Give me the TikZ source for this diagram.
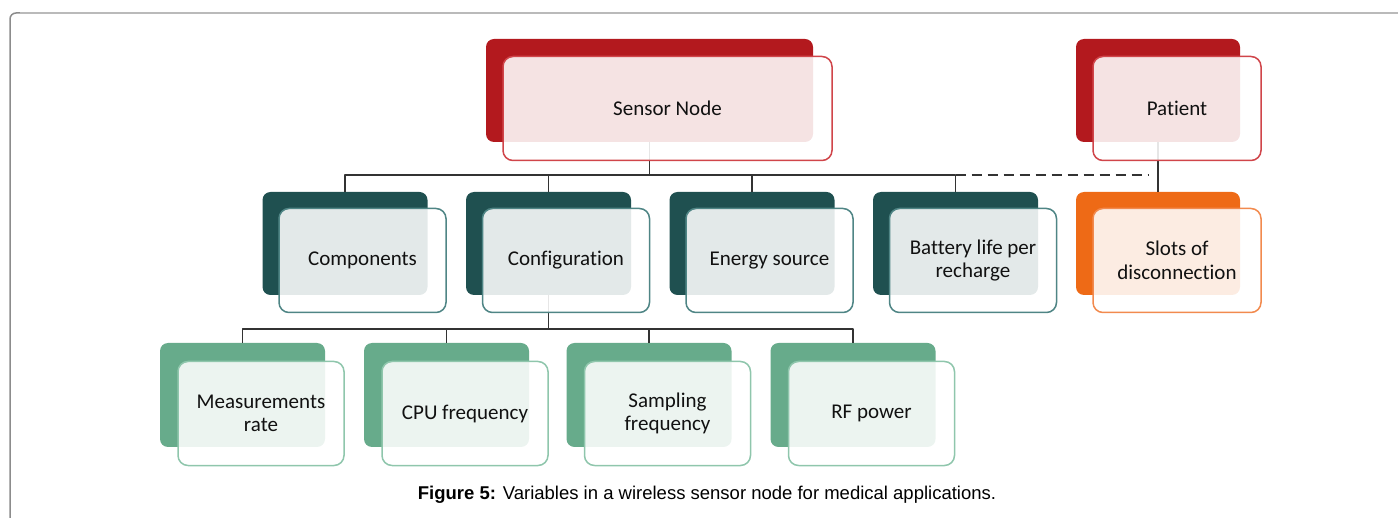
\documentclass[tikz,border=0pt]{standalone}
\usepackage{fontspec}
\setmainfont{Carlito}[Ligatures={NoCommon}]
\newfontfamily\capfont{Liberation Sans}
\usetikzlibrary{calc}

\definecolor{snred}{HTML}{B3191E}
\definecolor{snredline}{HTML}{D0454A}
\definecolor{darkteal}{HTML}{1F5050}
\definecolor{darktealline}{HTML}{4F8585}
\definecolor{slotorange}{HTML}{EE6A16}
\definecolor{slotorangeline}{HTML}{F28A4E}
\definecolor{midgreen}{HTML}{67AB8B}
\definecolor{midgreenline}{HTML}{8FC6AC}
\definecolor{linegray}{HTML}{333333}
\definecolor{textblack}{HTML}{111111}

\begin{document}
\begin{tikzpicture}[x=1pt, y=-1pt, line join=round,
  back/.style={rectangle, rounded corners=8, inner sep=0, outer sep=0,
    minimum width=165, minimum height=103},
  front/.style={rectangle, rounded corners=10, inner sep=0, outer sep=0,
    minimum width=167, minimum height=104, line width=1.5,
    fill=white, fill opacity=0.88, text opacity=1, text=textblack,
    align=center, font=\fontsize{21}{23.5}\selectfont},
  conn/.style={draw=linegray, line width=1.5},
  dashconn/.style={draw=linegray, line width=2.6, dash pattern=on 10 off 6}]
  \useasboundingbox (0,0) rectangle (1398,518);
  \clip (0,0) rectangle (1398,518);

  % Frame
  \draw[line width=1.5, color=black!45, rounded corners=6] (10,540) -- (10,13) -- (1420,13);
  \draw[line width=1.5, color=black!27] (20,13) -- (1420,13);

  % Back boxes
  \node[back, fill=snred, minimum width=327] (SNB) at (649.5,90.5) {};
  \node[back, fill=snred, minimum width=164] (PB) at (1158,90.5) {};

  \node[back, fill=darkteal] (CMB) at (345,243.5) {};
  \node[back, fill=darkteal] (CFB) at (548.5,243.5) {};
  \node[back, fill=darkteal] (ESB) at (752,243.5) {};
  \node[back, fill=darkteal] (BLB) at (955.5,243.5) {};
  \node[back, fill=slotorange, minimum width=164] (SDB) at (1158,243.5) {};

  \node[back, fill=midgreen, minimum height=104] (MRB) at (242.5,395) {};
  \node[back, fill=midgreen, minimum height=104] (CPB) at (446.5,395) {};
  \node[back, fill=midgreen, minimum height=104] (SFB) at (649,395) {};
  \node[back, fill=midgreen, minimum height=104] (RFB) at (853,395) {};

  % Connectors
  \coordinate (BUS1) at (649.5,175);
  \coordinate (BUS2) at (548.5,329);
  \coordinate (DASHEND) at (1148,175);

  \draw[conn] (SNB.south) -- (BUS1);
  \draw[conn] (CMB.north) |- (BUS1) -| (BLB.north);
  \draw[conn] (CFB.north) -- (CFB.north |- BUS1);
  \draw[conn] (ESB.north) -- (ESB.north |- BUS1);
  \draw[dashconn] (BLB.north |- BUS1) -- (DASHEND);
  \draw[conn] (PB.south) -- (SDB.north);

  \draw[conn] (CFB.south) -- (BUS2);
  \draw[conn] (MRB.north) |- (BUS2) -| (RFB.north);
  \draw[conn] (CPB.north) -- (CPB.north |- BUS2);
  \draw[conn] (SFB.north) -- (SFB.north |- BUS2);

  % Front boxes
  \node[front, draw=snredline, minimum width=329] (SNF) at (667.5,108.5) {Sensor Node};
  \node[front, draw=snredline, minimum width=168] (PF) at (1177,108.5) {Patient};

  \node[front, draw=darktealline] (CMF) at (362.5,260.5) {Components};
  \node[front, draw=darktealline] (CFF) at (566,260.5) {Configuration};
  \node[front, draw=darktealline] (ESF) at (769.5,260.5) {Energy source};
  \node[front, draw=darktealline] (BLF) at (973,260.5) {Battery life per\\recharge};
  \node[front, draw=slotorangeline, minimum width=168] (SDF) at (1177,260.5) {Slots of\\disconnection};

  \node[front, draw=midgreenline, minimum width=166] (MRF) at (261,413.5) {Measurements\\rate};
  \node[front, draw=midgreenline, minimum width=166] (CPF) at (465,413.5) {CPU frequency};
  \node[front, draw=midgreenline, minimum width=166] (SFF) at (667.5,413.5) {Sampling\\frequency};
  \node[front, draw=midgreenline, minimum width=166] (RFF) at (871.5,413.5) {RF power};

  % Caption
  \node[font=\capfont\fontsize{18.5}{21}\selectfont] (CAP) at (707,495)
    {\textbf{Figure 5:} Variables in a wireless sensor node for medical applications.};
\end{tikzpicture}
\end{document}
